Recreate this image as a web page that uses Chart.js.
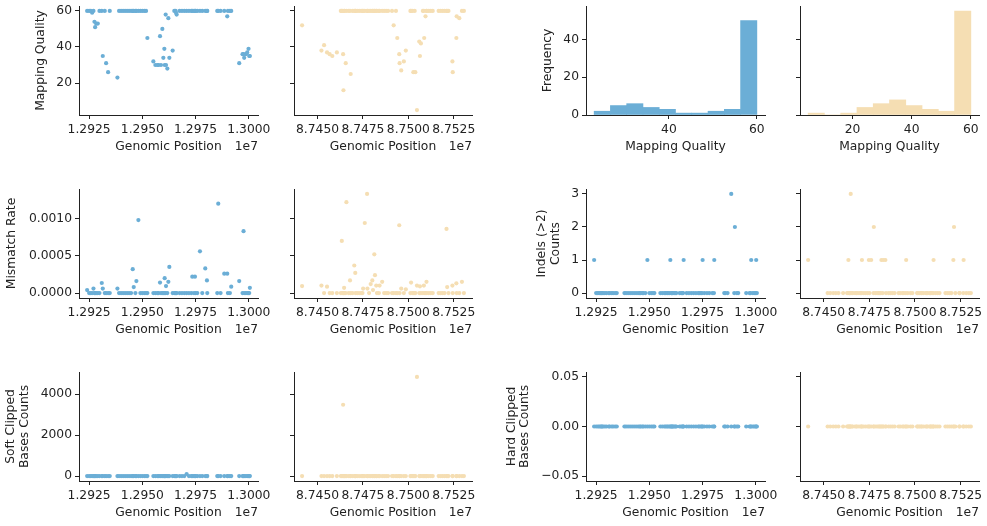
<!DOCTYPE html>
<html><head><meta charset="utf-8">
<script src="https://cdn.jsdelivr.net/npm/chart.js@4"></script>
<style>
html,body{margin:0;padding:0;background:#fff;width:987px;height:526px;overflow:hidden;position:relative}
canvas{position:absolute}
</style></head><body>
<script>
// ---------------- DATA ----------------
// Sample A (blue) : chr ~12.92-13.00 Mb
const posA = [12924060,12925000,12925780,12926406,12927031,12927500,12927812,12928281,12929062,12929844,
12930937,12931406,12932344,12932969,12933906,12934687,12938281,12939062,12940000,12940937,
12941875,12942812,12943750,12944687,12945469,12945937,12946719,12947187,12948125,12949062,
12950000,12950937,12951719,12952344,12955156,12956094,12957031,12957656,12958281,12958750,
12959375,12959844,12960312,12960469,12960937,12961094,12961719,12962187,12962656,12964219,
12965000,12965625,12965781,12966094,12967500,12968594,12969687,12970781,12971875,12972969,
12973437,12974219,12974687,12975000,12975781,12977031,12978125,12979531,12980312,12980469,
12985156,12985625,12986719,12988437,12989844,12990156,12991094,12991719,12995469,12997031,
12997500,12997812,12998594,12999219,12999844,13000156,13000469];
const mqA = [60,60,60,59,60,54,51,53,53,60, 60,35,60,31,26,60,23,60,60,60, 60,60,60,60,60,60,60,60,60,60,
60,60,60,45,32,30,30,30,46,30, 50,34,39,30,58,30,28,56,34,38, 60,60,59,58,60,60,60,60,60,60,
60,60,60,60,60,60,60,60,60,60, 60,60,60,60,57,60,60,60,31,36, 36,34,36,37,39,35,35];
const mmA = [0.00004,0,0,0,0.00006,0,0,0,0,0, 0.000135,0.00006,0,0,0,0,0.00006,0,0,0,
0,0,0,0,0.00032,0.00008,0,0.00016,0.00098,0, 0,0,0,0,0,0,0,0,0.00014,0,
0,0,0,0.0002,0,0.000094,0,0.00015,0.00035,0, 0,0,0,0,0,0,0,0,0,0,
0.00022,0,0.00022,0,0,0.00056,0,0.00033,0.00017,0, 0,0.0012,0,0.00026,0.00026,0,0,0.000085,0.00016,0,
0.00083,0,0,0,0,0,0.00007];
const indelA = [1,0,0,0,0,0,0,0,0,0, 0,0,0,0,0,0,0,0,0,0, 0,0,0,0,0,0,0,0,0,1,
0,0,0,0,0,0,0,0,0,0, 0,1,0,0,0,0,0,0,0,0, 0,0,0,1,0,0,0,0,0,0,
0,0,0,1,0,0,0,0,0,1, 0,0,0,3,0,2,0,0,0,0, 0,1,0,0,0,1,0];
const softA = [0,0,0,0,0,0,0,0,0,0, 0,0,0,0,0,0,0,0,0,0, 0,0,0,0,0,0,0,0,0,0,
0,0,0,0,0,0,0,0,0,0, 0,0,0,0,0,0,0,0,0,0, 0,0,0,0,0,0,0,100,0,0,
0,0,0,0,0,0,0,0,0,0, 0,0,0,0,0,0,0,0,0,0, 0,0,0,0,0,0,0];
const hardA = [0,0,0,0,0,0,0,0,0,0, 0,0,0,0,0,0,0,0,0,0, 0,0,0,0,0,0,0,0,0,0,
0,0,0,0,0,0,0,0,0,0, 0,0,0,0,0,0,0,0,0,0, 0,0,0,0,0,0,0,0,0,0,
0,0,0,0,0,0,0,0,0,0, 0,0,0,0,0,0,0,0,0,0, 0,0,0,0,0,0,0];

// Sample B (tan) : chr ~87.44-87.53 Mb
const posB = [87441507,87452168,87453614,87455240,87456686,87458131,87460661,87462830,87463372,87463552,
87464095,87464275,87464637,87464817,87465540,87465902,87467166,87467889,87468251,87469335,
87470238,87470780,87470961,87471865,87472949,87474033,87474756,87475117,87476021,87477286,
87477466,87478370,87479273,87480177,87480538,87481261,87481623,87482345,87482707,87483791,
87484152,87485598,87486682,87487766,87488851,87491019,87491922,87493187,87493910,87494994,
87495175,87496079,87497524,87498608,87501138,87501500,87502222,87502764,87503487,87503849,
87504752,87506017,87506378,87506921,87508005,87508547,87508728,87509450,87509992,87510173,
87511257,87512342,87513426,87516678,87517763,87518847,87519931,87521015,87521377,87522099,
87524268,87524448,87526436,87526617,87528062,87529508,87530592];
const mqB = [52,38,41,37,36,35,37,60,60,60, 36,16,60,60,31,60,60,60,25,60, 60,60,60,60,60,60,60,60,60,60,
60,60,60,60,60,60,60,60,60,60, 60,60,60,60,60,60,52,60,45,36, 31,27,32,38,60,60,60,26,60,26,
5,43,35,42,60,60,45,57,60,60, 60,60,60,60,60,60,60,60,60,60, 32,26,45,57,56,60,60];
const mmB = [0.000094,0.0001,0,0.000085,0,0,0,0,0.0007,0, 0,0,0.00007,0,0,0.00122,0,0.00017,0,0,
0.00037,0.00027,0,0,0,0,0,0.00006,0.00094,0.00133, 0.00006,0,0.00012,0.00017,0.00004,0.00052,0.00024,0.0001,0,0,
0.0001,0.00015,0,0,0,0,0,0,0,0.00091, 0,0.00006,0,0.00005,0,0.00014,0,0,0,0,
0.0001,0,0.00009,0,0,0.0001,0,0,0.00015,0, 0,0,0,0,0,0,0,0.00086,0.00008,0,
0.0001,0,0.00013,0,0,0.00015,0];
const indelB = [1,0,0,0,0,0,0,0,0,1, 0,0,0,3,0,0,0,0,0,0, 0,0,1,0,0,0,1,0,1,0,
2,0,0,0,0,0,1,0,1,1, 0,0,0,0,0,0,0,0,0,0, 1,0,0,0,0,0,0,0,0,0,
0,0,0,0,0,0,0,0,0,1, 0,0,0,0,0,0,0,1,2,0, 0,0,0,1,0,0,0];
const softB = [0,0,0,0,0,0,0,0,0,0, 3478,0,0,0,0,0,0,0,0,0, 0,0,0,0,0,0,0,0,0,0,
0,0,0,0,0,0,0,0,0,0, 0,0,0,0,0,0,0,0,0,0, 0,0,0,0,0,0,0,0,0,0,
4833,0,0,0,0,0,0,0,0,0, 0,0,0,0,0,0,0,0,0,0, 0,0,0,0,0,0,0];
const hardB = [0,0,0,0,0,0,0,0,0,0, 0,0,0,0,0,0,0,0,0,0, 0,0,0,0,0,0,0,0,0,0,
0,0,0,0,0,0,0,0,0,0, 0,0,0,0,0,0,0,0,0,0, 0,0,0,0,0,0,0,0,0,0,
0,0,0,0,0,0,0,0,0,0, 0,0,0,0,0,0,0,0,0,0, 0,0,0,0,0,0,0];

// Mapping-quality histograms
const histEdgesA = [23,26.7,30.4,34.1,37.8,41.5,45.2,48.9,52.6,56.3,60];
const histCountsA = [2,5,6,4,3,1,1,2,3,50];
const histEdgesB = [5,10.5,16,21.5,27,32.5,38,43.5,49,54.5,60];
const histCountsB = [1,0,1,4,6,8,5,3,2,55];

// Tick values and labels
const xTicksA = [12925000,12950000,12975000,13000000];
const xTickLabelsA = ['1.2925','1.2950','1.2975','1.3000'];
const xTicksB = [87450000,87475000,87500000,87525000];
const xTickLabelsB = ['8.7450','8.7475','8.7500','8.7525'];
const mqTicks = [20,40,60];           const mqTickLabels = ['20','40','60'];
const mmTicks = [0,0.0005,0.001];     const mmTickLabels = ['0.0000','0.0005','0.0010'];
const indelTicks = [0,1,2,3];         const indelTickLabels = ['0','1','2','3'];
const softTicks = [0,2000,4000];      const softTickLabels = ['0','2000','4000'];
const hardTicks = [-0.05,0,0.05];     const hardTickLabels = ['\u22120.05','0.00','0.05'];
const freqTicks = [0,20,40];          const freqTickLabels = ['0','20','40'];
const histXTicksA = [40,60];          const histXTickLabelsA = ['40','60'];
const histXTicksB = [20,40,60];       const histXTickLabelsB = ['20','40','60'];

// ---------------- STYLE / LAYOUT ----------------
const FONT = "'DejaVu Sans', sans-serif";
const FS = 12.3;
const TXT = '#222';
const BLUE = '#6baed6';
const TAN = '#f5deb3';
Chart.defaults.font.family = FONT;
Chart.defaults.font.size = FS;
Chart.defaults.color = TXT;

const colAxisL = [79, 294, 586, 800];
const colAxisR = [258, 472, 765, 979];
const colCanvasL = [0, 262, 498, 772];
const colCanvasR = [290, 498, 790, 987];
const rowTop = [6, 189, 372];
const rowBot = [115, 298, 481];
const XH = 45;           // x-scale box height
const LHY = 1.1;         // y-title line height

function lim(arrs, stickZero) {
  let mn = Infinity, mx = -Infinity;
  arrs.forEach(a => a.forEach(v => { if (v < mn) mn = v; if (v > mx) mx = v; }));
  if (stickZero) mn = 0;
  if (mx === mn) return [mn - 0.055, mx + 0.055];
  const m = (mx - mn) * 0.05;
  return [stickZero ? 0 : mn - m, mx + m];
}

const offsetTextPlugin = {
  id: 'offsetText',
  afterDraw(chart, args, opts) {
    if (!opts || !opts.text) return;
    const {ctx, chartArea} = chart;
    ctx.save();
    ctx.font = FS + 'px ' + FONT;
    ctx.fillStyle = TXT;
    ctx.textAlign = 'right';
    ctx.textBaseline = 'middle';
    ctx.fillText(opts.text, chartArea.right, chartArea.bottom + 31.5);
    ctx.restore();
  }
};

function panel(p) {
  const cl = colCanvasL[p.col], cr = colCanvasR[p.col];
  const ct = rowTop[p.row] - 6, cb = rowBot[p.row] + XH;
  const cv = document.createElement('canvas');
  cv.width = cr - cl; cv.height = cb - ct;
  cv.style.left = cl + 'px'; cv.style.top = ct + 'px';
  cv.style.width = (cr - cl) + 'px'; cv.style.height = (cb - ct) + 'px';
  document.body.appendChild(cv);

  const yw = colAxisL[p.col] - cl;
  const lhy = FS * LHY;
  const yTitlePad = p.yTitle ? (p.yTitleX - cl - lhy / 2) : 0;
  const xTitlePad = XH - 31.7 - FS * 1.2 / 2;

  const common = {
    bounds: 'data',
    grid: { drawOnChartArea: false, drawTicks: true, tickLength: 4, color: TXT, lineWidth: 1, offset: false },
    border: { display: true, color: TXT, width: 1 }
  };
  const xScale = Object.assign({}, common, {
    type: 'linear', position: 'bottom', min: p.xLim[0], max: p.xLim[1], offset: false,
    afterBuildTicks: s => { s.ticks = p.xTicks.map(v => ({value: v})); },
    afterFit: s => { s.height = XH; s.paddingLeft = 0; s.paddingRight = 0; s.paddingTop = 0; s.paddingBottom = 0; },
    ticks: { autoSkip: false, maxRotation: 0, minRotation: 0, padding: 3, color: TXT,
             font: {size: FS}, callback: (v, i) => p.xLabels[i] },
    title: { display: true, text: p.xTitle, color: TXT, font: {size: FS, lineHeight: 1.2},
             padding: {top: 0, bottom: xTitlePad} }
  });
  const yScale = Object.assign({}, common, {
    type: 'linear', position: 'left', min: p.yLim[0], max: p.yLim[1],
    afterBuildTicks: s => { s.ticks = p.yTicks.map(v => ({value: v})); },
    afterFit: s => { s.width = yw; s.paddingLeft = 0; s.paddingRight = 0; s.paddingTop = 0; s.paddingBottom = 0; },
    ticks: { autoSkip: false, padding: 3, color: TXT, font: {size: FS},
             callback: (v, i) => (p.yLabels ? p.yLabels[i] : '') },
    title: { display: !!p.yTitle, text: p.yTitle || '', color: TXT, font: {size: FS, lineHeight: LHY},
             padding: {top: yTitlePad, bottom: 0} }
  });

  let data;
  if (p.kind === 'scatter') {
    data = { datasets: [{
      data: p.xs.map((x, i) => ({x: x, y: p.ys[i]})),
      backgroundColor: p.color, borderColor: p.color, borderWidth: 0,
      pointRadius: 2.1, pointHoverRadius: 2.1
    }]};
  } else {
    const centers = p.edges.slice(0, -1).map((e, i) => (e + p.edges[i + 1]) / 2);
    data = { datasets: [{
      data: centers.map((c, i) => ({x: c, y: p.counts[i]})),
      backgroundColor: p.color, borderWidth: 0,
      barPercentage: 1, categoryPercentage: 1
    }]};
  }

  new Chart(cv, {
    type: p.kind === 'scatter' ? 'scatter' : 'bar',
    data: data,
    plugins: [offsetTextPlugin],
    options: {
      responsive: false, animation: false, devicePixelRatio: 1,
      layout: { padding: { left: 0, top: rowTop[p.row] - ct, right: cr - colAxisR[p.col], bottom: 0 } },
      plugins: { legend: {display: false}, tooltip: {enabled: false},
                 offsetText: { text: p.offsetText || '' } },
      events: [],
      scales: { x: xScale, y: yScale }
    }
  });
}

// shared limits
const xLimA = lim([posA]);
const xLimB = lim([posB]);
const mqLim = lim([mqA, mqB]);
const mmLim = lim([mmA, mmB]);
const indelLim = lim([indelA, indelB]);
const softLim = lim([softA, softB]);
const hardLim = lim([hardA, hardB]);
const freqLim = lim([histCountsA, histCountsB], true);
const hxLimA = lim([histEdgesA]);
const hxLimB = lim([histEdgesB]);

const GP = 'Genomic Position';
// Row 1
panel({row:0,col:0,kind:'scatter',xs:posA,ys:mqA,color:BLUE,xLim:xLimA,yLim:mqLim,xTicks:xTicksA,xLabels:xTickLabelsA,
  yTicks:mqTicks,yLabels:mqTickLabels,xTitle:GP,yTitle:'Mapping Quality',yTitleX:40.5,offsetText:'1e7'});
panel({row:0,col:1,kind:'scatter',xs:posB,ys:mqB,color:TAN,xLim:xLimB,yLim:mqLim,xTicks:xTicksB,xLabels:xTickLabelsB,
  yTicks:mqTicks,yLabels:null,xTitle:GP,offsetText:'1e7'});
panel({row:0,col:2,kind:'hist',edges:histEdgesA,counts:histCountsA,color:BLUE,xLim:hxLimA,yLim:freqLim,xTicks:histXTicksA,xLabels:histXTickLabelsA,
  yTicks:freqTicks,yLabels:freqTickLabels,xTitle:'Mapping Quality',yTitle:'Frequency',yTitleX:548.3});
panel({row:0,col:3,kind:'hist',edges:histEdgesB,counts:histCountsB,color:TAN,xLim:hxLimB,yLim:freqLim,xTicks:histXTicksB,xLabels:histXTickLabelsB,
  yTicks:freqTicks,yLabels:null,xTitle:'Mapping Quality'});
// Row 2
panel({row:1,col:0,kind:'scatter',xs:posA,ys:mmA,color:BLUE,xLim:xLimA,yLim:mmLim,xTicks:xTicksA,xLabels:xTickLabelsA,
  yTicks:mmTicks,yLabels:mmTickLabels,xTitle:GP,yTitle:'Mismatch Rate',yTitleX:12.3,offsetText:'1e7'});
panel({row:1,col:1,kind:'scatter',xs:posB,ys:mmB,color:TAN,xLim:xLimB,yLim:mmLim,xTicks:xTicksB,xLabels:xTickLabelsB,
  yTicks:mmTicks,yLabels:null,xTitle:GP,offsetText:'1e7'});
panel({row:1,col:2,kind:'scatter',xs:posA,ys:indelA,color:BLUE,xLim:xLimA,yLim:indelLim,xTicks:xTicksA,xLabels:xTickLabelsA,
  yTicks:indelTicks,yLabels:indelTickLabels,xTitle:GP,yTitle:['Indels (>2)','Counts'],yTitleX:541.8,offsetText:'1e7'});
panel({row:1,col:3,kind:'scatter',xs:posB,ys:indelB,color:TAN,xLim:xLimB,yLim:indelLim,xTicks:xTicksB,xLabels:xTickLabelsB,
  yTicks:indelTicks,yLabels:null,xTitle:GP,offsetText:'1e7'});
// Row 3
panel({row:2,col:0,kind:'scatter',xs:posA,ys:softA,color:BLUE,xLim:xLimA,yLim:softLim,xTicks:xTicksA,xLabels:xTickLabelsA,
  yTicks:softTicks,yLabels:softTickLabels,xTitle:GP,yTitle:['Soft Clipped','Bases Counts'],yTitleX:10.8,offsetText:'1e7'});
panel({row:2,col:1,kind:'scatter',xs:posB,ys:softB,color:TAN,xLim:xLimB,yLim:softLim,xTicks:xTicksB,xLabels:xTickLabelsB,
  yTicks:softTicks,yLabels:null,xTitle:GP,offsetText:'1e7'});
panel({row:2,col:2,kind:'scatter',xs:posA,ys:hardA,color:BLUE,xLim:xLimA,yLim:hardLim,xTicks:xTicksA,xLabels:xTickLabelsA,
  yTicks:hardTicks,yLabels:hardTickLabels,xTitle:GP,yTitle:['Hard Clipped','Bases Counts'],yTitleX:511.5,offsetText:'1e7'});
panel({row:2,col:3,kind:'scatter',xs:posB,ys:hardB,color:TAN,xLim:xLimB,yLim:hardLim,xTicks:xTicksB,xLabels:xTickLabelsB,
  yTicks:hardTicks,yLabels:null,xTitle:GP,offsetText:'1e7'});
</script>
</body></html>
